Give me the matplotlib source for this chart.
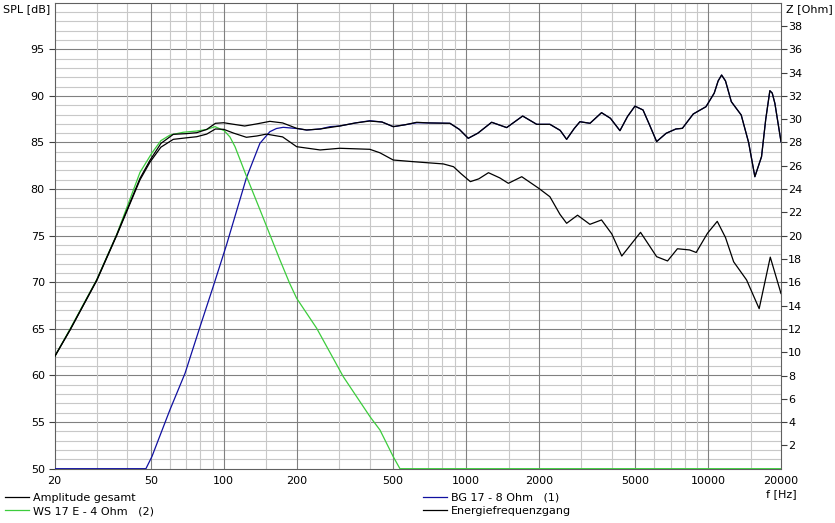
import matplotlib
matplotlib.use("Agg")
import matplotlib.pyplot as plt
from matplotlib.lines import Line2D

plt.rcParams["font.family"] = ["DejaVu Sans"]
plt.rcParams["font.size"] = 8

# --- Data ------------------------------------------------------------------
sum_f = [20, 23.2, 29.9, 36.1, 45.1, 49.6, 55, 61.9, 70, 77.3, 85, 92.4, 100, 110, 122,
         137, 155, 175, 200, 220, 250, 301, 350, 400, 450, 501, 560, 626, 700, 859, 940,
         1022, 1120, 1277, 1473, 1715, 1960, 2222, 2450, 2605, 2800, 2956, 3253, 3630,
         3950, 4325, 4650, 4987, 5386, 5750, 6130, 6712, 7360, 7830, 8684, 9800, 10600,
         11000, 11370, 11800, 12470, 13700, 14700, 15600, 16620, 17300, 17990, 18400,
         18870, 20000]
sum_db = [62.0, 64.9, 70.25, 75.07, 81.16, 83.1, 84.9, 85.88, 85.95, 86.05, 86.4, 87.06,
          87.12, 86.95, 86.77, 87.0, 87.27, 87.1, 86.52, 86.34, 86.45, 86.77, 87.1, 87.3,
          87.2, 86.7, 86.9, 87.17, 87.1, 87.06, 86.4, 85.45, 86.0, 87.17, 86.6, 87.84,
          86.95, 86.95, 86.3, 85.34, 86.5, 87.23, 87.06, 88.2, 87.6, 86.27, 87.8, 88.9,
          88.49, 86.8, 85.1, 85.99, 86.45, 86.52, 88.06, 88.84, 90.3, 91.6, 92.24, 91.6,
          89.38, 87.95, 85.0, 81.33, 83.48, 87.5, 90.56, 90.3, 89.2, 85.09]

energy_f = [20, 23.2, 29.9, 36.1, 45.1, 49.6, 55, 61.9, 70, 77.3, 85, 92.4, 100, 110, 124,
            137, 150, 175, 200, 250, 301, 401, 441, 501, 608, 807, 889, 950, 1043, 1130,
            1239, 1380, 1497, 1700, 1997, 2222, 2444, 2605, 2890, 3250, 3630, 4000, 4400,
            5260, 6130, 6800, 7470, 8390, 8930, 9940, 10910, 11800, 12750, 14420, 16250,
            18060, 20000]
energy_db = [62.0, 64.9, 70.2, 75.0, 81.0, 82.9, 84.5, 85.34, 85.5, 85.62, 85.9, 86.45,
             86.41, 86.0, 85.56, 85.7, 85.9, 85.6, 84.55, 84.2, 84.38, 84.27, 83.9, 83.12,
             82.94, 82.7, 82.4, 81.7, 80.8, 81.1, 81.76, 81.2, 80.62, 81.33, 80.09, 79.18,
             77.3, 76.33, 77.2, 76.22, 76.69, 75.2, 72.82, 75.36, 72.75, 72.29, 73.6, 73.47,
             73.2, 75.26, 76.54, 74.8, 72.2, 70.25, 67.17, 72.7, 68.8]

woofer_f = [20, 23.2, 29.9, 36.1, 45.1, 50.4, 55, 60, 68, 77.3, 85, 92, 100.4, 106, 111.3,
            124.3, 141.2, 170.6, 187, 200, 242, 311.6, 401.7, 441.6, 501, 534, 20000]
woofer_db = [62.0, 65.0, 70.3, 75.1, 81.8, 83.84, 85.2, 85.8, 86.1, 86.23, 86.4, 86.7,
             86.27, 85.6, 84.55, 81.33, 77.76, 72.4, 69.9, 68.28, 65.06, 59.87, 55.58,
             54.15, 51.29, 50.0, 50.0]

tweeter_f_low = [20, 47.7, 50.5, 59.9, 69.2, 79.4, 90.4, 102.6, 124, 141, 155, 165, 176,
                 200, 220, 250, 274.6, 301, 350, 401, 450, 501, 560, 626]
tweeter_db_low = [50, 50, 51.3, 56.3, 60.24, 65.06, 69.53, 74.0, 81.2, 84.91, 86.16, 86.5,
                  86.63, 86.5, 86.34, 86.45, 86.7, 86.77, 87.1, 87.34, 87.2, 86.7, 86.9,
                  87.12]

spl_ticks = [50, 55, 60, 65, 70, 75, 80, 85, 90, 95]
z_ticks = list(range(2, 40, 2))
freq_labels = [20, 50, 100, 200, 500, 1000, 2000, 5000, 10000, 20000]
major_f = [50, 100, 200, 500, 1000, 2000, 5000, 10000]
minor_f = [30, 40, 60, 70, 80, 90, 150, 300, 400, 600, 700, 800, 900, 1500,
           3000, 4000, 6000, 7000, 8000, 9000, 15000]

# tweeter above 626 Hz coincides with the sum curve
tweeter_f = tweeter_f_low + [f for f in sum_f if f > 626]
tweeter_db = tweeter_db_low + [d for f, d in zip(sum_f, sum_db) if f > 626]

GREEN = "#3ccc3c"
BLUE = "#1010a0"
DARK = "#808080"
LIGHT = "#c8c8c8"

fig = plt.figure(figsize=(8.35, 5.23), dpi=100)
ax = fig.add_axes([54.5 / 835, 1 - 468.7 / 523, (781 - 54.5) / 835, (468.7 - 2.7) / 523])
ax.set_xscale("log")
ax.set_xlim(20, 20000)
ax.set_ylim(50, 100)

# grid
for v in range(51, 100):
    ax.axhline(v, color=DARK if v % 5 == 0 else LIGHT, lw=0.8, zorder=0)
for f in minor_f:
    ax.axvline(f, color=LIGHT, lw=0.8, zorder=0)
for f in major_f:
    ax.axvline(f, color=DARK, lw=0.8, zorder=0)

ax.plot(tweeter_f, tweeter_db, color=BLUE, lw=0.9, zorder=3)
ax.plot(woofer_f, woofer_db, color=GREEN, lw=0.9, zorder=3)
ax.plot(energy_f, energy_db, color="black", lw=0.9, zorder=4)
ax.plot(sum_f, sum_db, color="black", lw=0.9, zorder=4)

ax.set_yticks(spl_ticks)
ax.set_yticklabels([str(v) for v in spl_ticks])
ax.tick_params(axis="y", direction="out", length=4, width=0.8, color="#404040", pad=3)
ax.set_xticks(freq_labels)
ax.set_xticklabels([str(v) for v in freq_labels])
ax.minorticks_off()
ax.tick_params(axis="x", length=0, pad=5)
for s in ax.spines.values():
    s.set_color("#606060")
    s.set_linewidth(0.8)

az = ax.twinx()
az.set_ylim(0, 40)
az.set_yticks(z_ticks)
az.set_yticklabels([str(v) for v in z_ticks])
az.tick_params(axis="y", direction="out", length=4, width=0.8, color="#404040", pad=1)
for s in az.spines.values():
    s.set_visible(False)

fig.text(3 / 835, 1 - 9 / 523, "SPL [dB]", ha="left", va="center")
fig.text(786 / 835, 1 - 9 / 523, "Z [Ohm]", ha="left", va="center")
fig.text(781 / 835, 1 - 494 / 523, "f [Hz]", ha="center", va="center")

# legend, two columns
h_sum = Line2D([], [], color="black", lw=0.9)
h_wf = Line2D([], [], color=GREEN, lw=0.9)
h_tw = Line2D([], [], color=BLUE, lw=0.9)
h_en = Line2D([], [], color="black", lw=0.9)
common = dict(loc="upper left", frameon=False, handlelength=2.2, handletextpad=0.35,
              labelspacing=0.3, borderpad=0, borderaxespad=0, fontsize=8)
fig.legend([h_sum, h_wf], ["Amplitude gesamt", "WS 17 E - 4 Ohm   (2)"],
           bbox_to_anchor=(5 / 835, 1 - 493 / 523), **common)
fig.legend([h_tw, h_en], ["BG 17 - 8 Ohm   (1)", "Energiefrequenzgang"],
           bbox_to_anchor=(423 / 835, 1 - 493 / 523), **common)

fig.savefig("out.png", dpi=100)
